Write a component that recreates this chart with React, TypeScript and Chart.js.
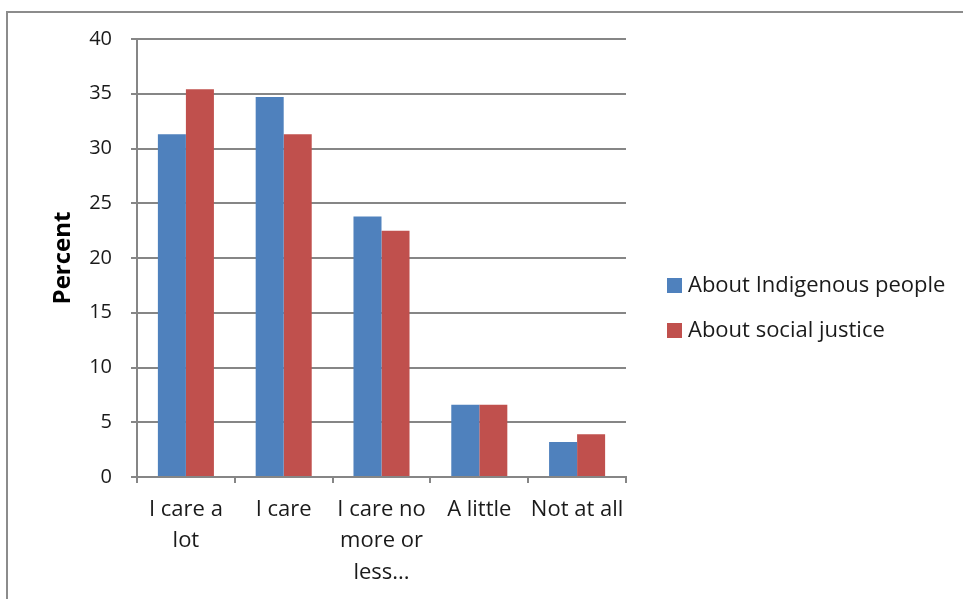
import React, { useEffect, useRef } from "react";
import { Chart, registerables } from "chart.js";

Chart.register(...registerables);

const categories: (string | string[])[] = [
  ["I care a", "lot"],
  "I care",
  ["I care no", "more or", "less..."],
  "A little",
  "Not at all",
];
const seriesNames = ["About Indigenous people", "About social justice"];
const indigenousValues = [31.3, 34.7, 23.8, 6.6, 3.2];
const socialJusticeValues = [35.4, 31.3, 22.5, 6.6, 3.9];
const yMin = 0;
const yMax = 40;
const yStep = 5;
const seriesColors = ["#4F81BD", "#C0504D"];

const FONT = "'Open Sans', Lato, sans-serif";
const GRAY = "#868686";

const borderPlugin = {
  id: "outerBorder",
  beforeDraw(chart: any) {
    const ctx = chart.ctx;
    ctx.save();
    ctx.fillStyle = "#ffffff";
    ctx.fillRect(0, 0, chart.width, chart.height);
    ctx.strokeStyle = "#8c8c8c";
    ctx.lineWidth = 2;
    ctx.strokeRect(7, 12, 2000, 2000);
    ctx.restore();
  },
};

const legendPlugin = {
  id: "sideLegend",
  afterDraw(chart: any) {
    const ctx = chart.ctx;
    const area = chart.chartArea;
    const x = area.right + 41;
    ctx.save();
    ctx.font = `22px ${FONT}`;
    ctx.textBaseline = "middle";
    ctx.textAlign = "left";
    chart.data.datasets.forEach((ds: any, i: number) => {
      const cy = area.top + 246 + i * 45;
      ctx.fillStyle = ds.backgroundColor;
      ctx.fillRect(x, cy - 7, 15, 15);
      ctx.fillStyle = "#1a1a1a";
      ctx.fillText(ds.label, x + 21, cy + 1);
    });
    ctx.restore();
  },
};

export default function App() {
  const ref = useRef<HTMLCanvasElement | null>(null);

  useEffect(() => {
    if (!ref.current) return;
    const chart = new Chart(ref.current, {
      type: "bar",
      data: {
        labels: categories,
        datasets: [
          {
            label: seriesNames[0],
            data: indigenousValues,
            backgroundColor: seriesColors[0],
            barPercentage: 1,
            categoryPercentage: 0.573,
          },
          {
            label: seriesNames[1],
            data: socialJusticeValues,
            backgroundColor: seriesColors[1],
            barPercentage: 1,
            categoryPercentage: 0.573,
          },
        ],
      },
      options: {
        animation: false,
        responsive: false,
        maintainAspectRatio: false,
        layout: { padding: { left: 45, top: 39, right: 337, bottom: 0 } },
        plugins: {
          legend: { display: false },
          tooltip: { enabled: false },
        },
        scales: {
          x: {
            grid: {
              offset: true,
              drawOnChartArea: false,
              drawTicks: true,
              tickLength: 6,
              color: GRAY,
              lineWidth: 2,
            },
            border: { display: true, color: GRAY, width: 2 },
            ticks: {
              color: "#1a1a1a",
              font: { family: FONT, size: 22, lineHeight: 1.43 },
              padding: 11,
              maxRotation: 0,
              autoSkip: false,
            },
            afterFit: (s: any) => {
              s.height = 599 - 477;
            },
          },
          y: {
            min: yMin,
            max: yMax,
            ticks: {
              stepSize: yStep,
              color: "#1a1a1a",
              font: { family: FONT, size: 20 },
              padding: 19,
            },
            grid: {
              color: GRAY,
              lineWidth: 2,
              drawTicks: true,
              tickLength: 6,
            },
            border: { display: true, color: GRAY, width: 2 },
            title: {
              display: true,
              text: "Percent",
              color: "#000000",
              font: { family: FONT, size: 24, weight: "bold" },
              padding: { top: 4, bottom: 4 },
            },
            afterFit: (s: any) => {
              s.width = 137 - 45;
            },
          },
        },
      },
      plugins: [borderPlugin, legendPlugin],
    });
    return () => chart.destroy();
  }, []);

  return (
    <div style={{ position: "fixed", left: 0, top: 0, width: 963, height: 599, background: "#fff" }}>
      <canvas ref={ref} width={963} height={599} style={{ display: "block", width: 963, height: 599 }} />
    </div>
  );
}
